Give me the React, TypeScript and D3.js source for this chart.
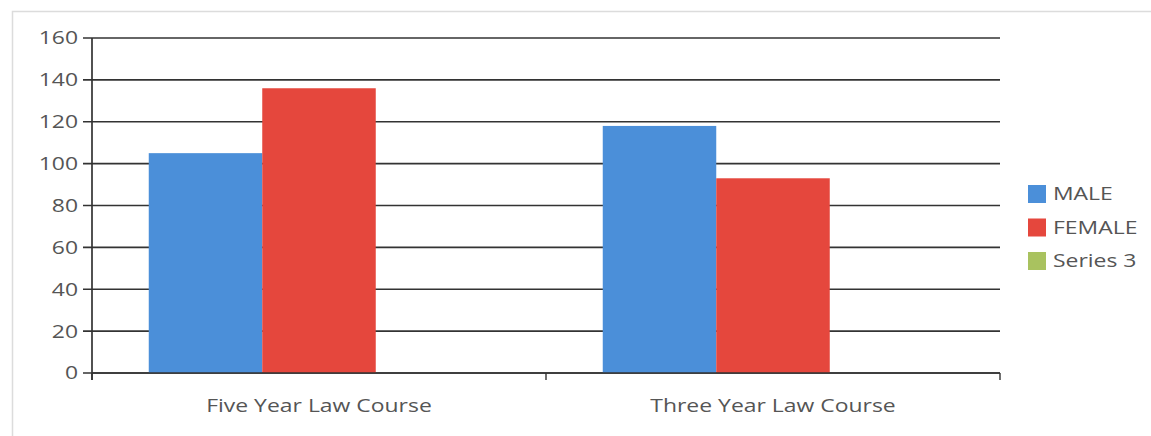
import React, { useEffect, useRef } from 'react';
import * as d3 from 'd3';

const categories = ['Five Year Law Course', 'Three Year Law Course'];
const seriesNames = ['MALE', 'FEMALE', 'Series 3'];
const maleValues = [105, 118];
const femaleValues = [136, 93];
const series3Values: (number | null)[] = [null, null];
const yTicks = [0, 20, 40, 60, 80, 100, 120, 140, 160];

const colors = ['#4b8fd9', '#e5473d', '#a9c25f'];

export default function App() {
  const chartRef = useRef<SVGSVGElement>(null);

  useEffect(() => {
    if (!chartRef.current) return;
    const svg = d3.select(chartRef.current);
    svg.selectAll('*').remove();

    const width = 1151;
    const height = 436;
    const margin = { top: 38, right: 151, bottom: 63, left: 92 };
    const chartWidth = width - margin.left - margin.right;
    const chartHeight = height - margin.top - margin.bottom;
    const font = "'Open Sans', 'DejaVu Sans', sans-serif";
    const fontSize = 18.5;
    const stretch = 1.24; // the source text looks horizontally stretched

    // outer frame
    svg.append('rect')
      .attr('x', 12.5).attr('y', 11.5)
      .attr('width', 1200).attr('height', 500)
      .attr('fill', 'none')
      .attr('stroke', '#dcdcdc')
      .attr('stroke-width', 1.5);

    const g = svg.append('g')
      .attr('transform', `translate(${margin.left},${margin.top})`);

    const x0 = d3.scaleBand<string>()
      .domain(categories)
      .range([0, chartWidth])
      .padding(0);

    const x1 = d3.scaleBand<string>()
      .domain(seriesNames)
      .range([0, x0.bandwidth()])
      .paddingInner(0)
      .paddingOuter(0.5);

    const y = d3.scaleLinear()
      .domain([0, 160])
      .range([chartHeight, 0]);

    // gridlines + y ticks
    g.append('g')
      .selectAll('line')
      .data(yTicks)
      .join('line')
      .attr('x1', -9)
      .attr('x2', chartWidth)
      .attr('y1', d => y(d))
      .attr('y2', d => y(d))
      .attr('stroke', '#333')
      .attr('stroke-width', 1.7);

    g.append('g')
      .selectAll('text')
      .data(yTicks)
      .join('text')
      .attr('transform', d => `translate(-14,${y(d)}) scale(${stretch},1)`)
      .attr('dy', '0.35em')
      .attr('text-anchor', 'end')
      .attr('font-family', font)
      .attr('font-size', fontSize)
      .attr('fill', '#555')
      .text(d => d);

    // bars
    const rows = [maleValues, femaleValues, series3Values];
    seriesNames.forEach((s, i) => {
      g.append('g')
        .selectAll('rect')
        .data(categories.map((c, j) => ({ c, v: rows[i][j] })).filter(d => d.v != null))
        .join('rect')
        .attr('x', d => (x0(d.c) ?? 0) + (x1(s) ?? 0))
        .attr('width', x1.bandwidth())
        .attr('y', d => y(d.v as number))
        .attr('height', d => chartHeight - y(d.v as number))
        .attr('fill', colors[i]);
    });

    // y axis line
    g.append('line')
      .attr('x1', 0).attr('x2', 0)
      .attr('y1', 0).attr('y2', chartHeight + 7)
      .attr('stroke', '#333')
      .attr('stroke-width', 1.7);

    // x axis line + category ticks
    g.append('line')
      .attr('x1', 0).attr('x2', chartWidth)
      .attr('y1', chartHeight).attr('y2', chartHeight)
      .attr('stroke', '#333')
      .attr('stroke-width', 1.7);

    const tickPos = categories.map(c => x0(c) ?? 0).concat([chartWidth]);
    g.append('g')
      .selectAll('line')
      .data(tickPos)
      .join('line')
      .attr('x1', d => d).attr('x2', d => d)
      .attr('y1', chartHeight).attr('y2', chartHeight + 7)
      .attr('stroke', '#333')
      .attr('stroke-width', 1.4);

    g.append('g')
      .selectAll('text')
      .data(categories)
      .join('text')
      .attr('transform', d => `translate(${(x0(d) ?? 0) + x0.bandwidth() / 2},${chartHeight + 33}) scale(${stretch},1)`)
      .attr('dy', '0.35em')
      .attr('text-anchor', 'middle')
      .attr('font-family', font)
      .attr('font-size', fontSize)
      .attr('fill', '#555')
      .text(d => d);

    // legend
    const legend = svg.append('g').attr('transform', 'translate(1028,194)');
    seriesNames.forEach((s, i) => {
      const row = legend.append('g').attr('transform', `translate(0,${i * 33.5})`);
      row.append('rect')
        .attr('x', 0).attr('y', -9)
        .attr('width', 18).attr('height', 18)
        .attr('fill', colors[i]);
      row.append('text')
        .attr('transform', `translate(25,0) scale(${stretch},1)`)
        .attr('dy', '0.35em')
        .attr('font-family', font)
        .attr('font-size', fontSize)
        .attr('fill', '#555')
        .text(s);
    });
  }, []);

  return (
    <svg
      ref={chartRef}
      width={1151}
      height={436}
      style={{ position: 'absolute', left: 0, top: 0, background: '#fff' }}
    />
  );
}
